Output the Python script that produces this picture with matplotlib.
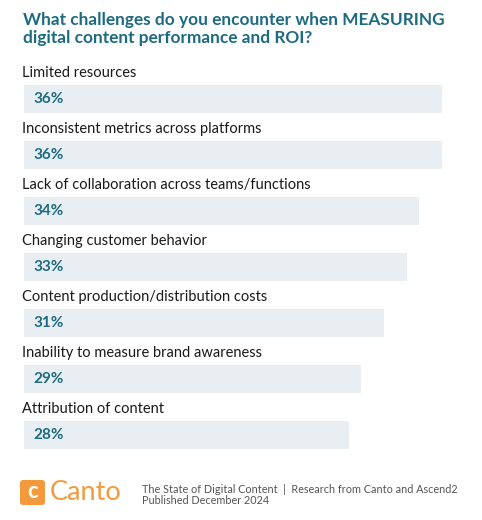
import matplotlib.pyplot as plt
from matplotlib.patches import FancyBboxPatch

categories = [
    "Limited resources",
    "Inconsistent metrics across platforms",
    "Lack of collaboration across teams/functions",
    "Changing customer behavior",
    "Content production/distribution costs",
    "Inability to measure brand awareness",
    "Attribution of content",
]
values = [36, 36, 34, 33, 31, 29, 28]

title = "What challenges do you encounter when MEASURING\ndigital content performance and ROI?"
footer = "The State of Digital Content  |  Research from Canto and Ascend2\nPublished December 2024"

W, H = 482, 520
teal = "#1d6b80"
bar_color = "#e8eef2"
orange = "#f39a3d"

plt.rcParams['font.family'] = ['Lato', 'DejaVu Sans']
fig = plt.figure(figsize=(W / 100, H / 100), dpi=100)

# bars area: x 0..36 maps to px 24..442
top_px, bot_px = 57, 463
ax = fig.add_axes([24 / W, 1 - bot_px / H, 418 / W, (bot_px - top_px) / H])
ax.barh(range(len(values)), values, height=0.5, color=bar_color, zorder=1)
for i, (cat, v) in enumerate(zip(categories, values)):
    ax.text(-0.15, i - 0.47, cat, fontsize=10.5, color="#1a1a1a", va="center", ha="left")
    ax.text(0.8, i, f"{v}%", fontsize=11, fontweight="bold", color=teal, va="center", ha="left")
ax.set_xlim(0, 36)
ax.set_ylim(6.5, -0.75)
ax.axis("off")

fig.text(23 / W, 1 - 29 / H, title, fontsize=12.4, fontweight="bold", color=teal,
         va="center", ha="left", linespacing=1.1)

# footer logo
logo = fig.add_axes([0, 0, 1, 1], facecolor="none")
logo.set_xlim(0, W)
logo.set_ylim(H, 0)
logo.axis("off")
logo.add_patch(FancyBboxPatch((20, 480), 25, 25, boxstyle="round,pad=0,rounding_size=3",
                              facecolor=orange, edgecolor="none"))
logo.text(32.5, 492, "c", fontsize=16, color="white", ha="center", va="center", fontweight="bold")
logo.text(50, 492, "Canto", fontsize=19.5, color=orange, ha="left", va="center")
logo.text(142, 495, footer, fontsize=7.8, color="#555555", ha="left", va="center", linespacing=1.0)

fig.savefig("out.png", dpi=100)
